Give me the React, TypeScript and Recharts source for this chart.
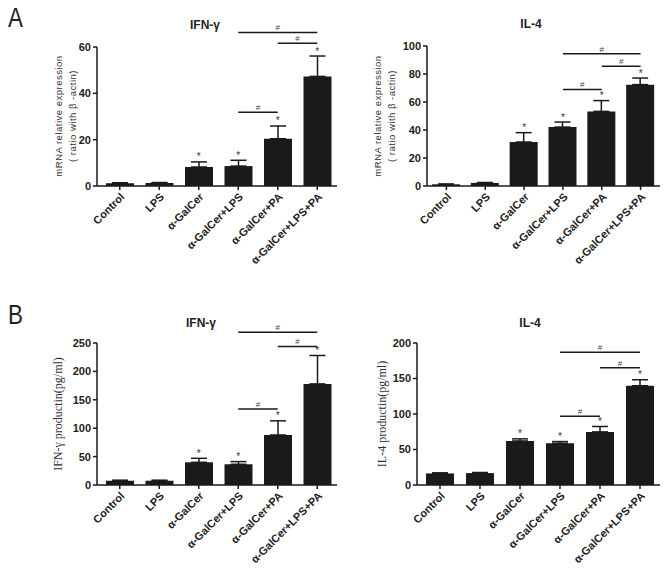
import React from 'react';
import { BarChart, Bar, XAxis, YAxis, ErrorBar, ReferenceLine, ReferenceDot } from 'recharts';

const categories = ['Control', 'LPS', 'α-GalCer', 'α-GalCer+LPS', 'α-GalCer+PA', 'α-GalCer+LPS+PA'];

// A: mRNA relative expression
const ifnMrnaMean = [1.2, 1.3, 8.2, 8.6, 20.4, 47.3];
const ifnMrnaErr = [0.2, 0.2, 2.2, 2.5, 5.5, 8.8];
const il4MrnaMean = [1.2, 2.2, 31.4, 42.1, 53.3, 72.4];
const il4MrnaErr = [0.2, 0.3, 6.7, 3.6, 7.7, 4.7];

// B: protein production (pg/ml)
const ifnProdMean = [7.5, 7.5, 40, 36.5, 88, 178];
const ifnProdErr = [1, 1, 7, 4.7, 25, 50];
const il4ProdMean = [16.3, 16.8, 62, 58.8, 74.8, 139.8];
const il4ProdErr = [0.8, 0.8, 3, 2.4, 7.6, 8.4];

// groups marked with * (vs control)
const starred = [2, 3, 4, 5];

// significance brackets: [from index, to index, y value]
const ifnMrnaBrackets = [[3, 5, 66.3], [4, 5, 61.6], [3, 4, 31.8]];
const il4MrnaBrackets = [[3, 5, 94.5], [4, 5, 85.5], [3, 4, 69]];
const ifnProdBrackets = [[3, 5, 269], [4, 5, 244], [3, 4, 134]];
const il4ProdBrackets = [[3, 5, 187], [4, 5, 165], [3, 4, 97]];

const ifnMrnaTicks = [0, 20, 40, 60];
const il4MrnaTicks = [0, 20, 40, 60, 80, 100];
const ifnProdTicks = [0, 50, 100, 150, 200, 250];
const il4ProdTicks = [0, 50, 100, 150, 200];

const SANS = '"Liberation Sans", Arial, sans-serif';
const SERIF = '"Liberation Serif", "Times New Roman", serif';
const INK = '#1a1a1a';

const buildRows = (mean: number[], err: number[]) =>
  categories.map((name, i) => ({ name, mean: mean[i], err: [0, err[i]] }));

interface PanelProps {
  mean: number[];
  err: number[];
  ticks: number[];
  brackets: number[][];
  left: number;
  top: number;
  width: number;
  height: number;
  margin: { top: number; right: number; bottom: number; left: number };
  xHeight: number;
  padLeft: number;
}

const Panel: React.FC<PanelProps> = ({ mean, err, ticks, brackets, left, top, width, height, margin, xHeight, padLeft }) => {
  const rows = buildRows(mean, err);
  const max = ticks[ticks.length - 1];
  return (
    <div style={{ position: 'absolute', left, top }}>
      <BarChart width={width} height={height} data={rows} margin={margin} barSize={28}>
        <XAxis
          dataKey="name"
          interval={0}
          angle={-45}
          textAnchor="end"
          height={xHeight}
          tickSize={4}
          padding={{ left: padLeft, right: 0 }}
          axisLine={{ stroke: INK, strokeWidth: 1.5 }}
          tickLine={{ stroke: INK, strokeWidth: 1.5 }}
          tick={{ fontSize: 11, fontWeight: 'bold', fill: '#222', fontFamily: SANS }}
        />
        <YAxis
          domain={[0, max]}
          ticks={ticks}
          width={40}
          tickSize={4}
          axisLine={{ stroke: INK, strokeWidth: 1.5 }}
          tickLine={{ stroke: INK, strokeWidth: 1.5 }}
          tick={{ fontSize: 11, fontWeight: 'bold', fill: '#222', fontFamily: SANS }}
        />
        <Bar dataKey="mean" fill={INK} isAnimationActive={false}>
          <ErrorBar dataKey="err" direction="y" width={8} stroke={INK} strokeWidth={1.5} />
        </Bar>
        {starred.map((i) => (
          <ReferenceDot
            key={`s-${i}`}
            x={categories[i]}
            y={mean[i] + err[i]}
            r={0}
            shape={(p: any) => (
              <text x={p.cx} y={p.cy - 1.5} textAnchor="middle" fontSize={10} fill="#333" fontFamily={SANS}>*</text>
            )}
          />
        ))}
        {brackets.map(([a, b, y], k) => (
          <ReferenceLine
            key={`b-${k}`}
            segment={[{ x: categories[a], y }, { x: categories[b], y }]}
            ifOverflow="visible"
            stroke={INK}
            strokeWidth={1.5}
            label={{ value: '#', position: 'top', offset: 2, fontSize: 8, fill: '#444', fontFamily: SANS }}
          />
        ))}
      </BarChart>
    </div>
  );
};

const Title: React.FC<{ text: string; cx: number; top: number }> = ({ text, cx, top }) => (
  <div style={{ position: 'absolute', left: cx - 50, top, width: 100, textAlign: 'center', fontFamily: SANS, fontWeight: 'bold', fontSize: 12, lineHeight: '12px', color: '#222' }}>
    {text}
  </div>
);

const YLabel: React.FC<{ lines: string[]; cx: number; cy: number; font: string; size: number; spacing?: number; lh: number }> = ({ lines, cx, cy, font, size, spacing = 0, lh }) => (
  <div
    style={{
      position: 'absolute', left: cx, top: cy, transform: 'translate(-50%, -50%) rotate(-90deg)',
      whiteSpace: 'nowrap', textAlign: 'center', fontFamily: font, fontSize: size, lineHeight: `${lh}px`,
      letterSpacing: spacing, color: '#333',
    }}
  >
    {lines.map((l, i) => <div key={i}>{l}</div>)}
  </div>
);

const Letter: React.FC<{ text: string; top: number }> = ({ text, top }) => (
  <div style={{ position: 'absolute', left: 8, top, fontFamily: SANS, fontSize: 28, lineHeight: '28px', color: '#222', transform: 'scaleX(0.8)', transformOrigin: 'left top' }}>
    {text}
  </div>
);

export default function App() {
  return (
    <div style={{ position: 'absolute', left: 0, top: 0, width: 668, height: 571, background: '#fff', overflow: 'hidden' }}>
      <Letter text="A" top={4} />
      <Letter text="B" top={301} />

      <Title text="IFN-γ" cx={205} top={19} />
      <Title text="IL-4" cx={531} top={18} />
      <Title text="IFN-γ" cx={201} top={317} />
      <Title text="IL-4" cx={530} top={317} />

      <YLabel lines={['mRNA relative expression', '( ratio with β -actin)']} cx={66} cy={116} font={SANS} size={9.5} spacing={0.5} lh={14} />
      <YLabel lines={['mRNA relative expression', '( ratio with β -actin)']} cx={385} cy={116} font={SANS} size={9.5} spacing={0.5} lh={14} />
      <YLabel lines={['IFN-γ  productin(pg/ml)']} cx={58} cy={414} font={SERIF} size={12} lh={14} />
      <YLabel lines={['IL-4 productin(pg/ml)']} cx={382} cy={414} font={SERIF} size={12} lh={14} />

      <Panel mean={ifnMrnaMean} err={ifnMrnaErr} ticks={ifnMrnaTicks} brackets={ifnMrnaBrackets}
        left={0} top={0} width={340} height={290} margin={{ top: 47, right: 3, bottom: 4, left: 57 }} xHeight={100} padLeft={3} />
      <Panel mean={il4MrnaMean} err={il4MrnaErr} ticks={il4MrnaTicks} brackets={il4MrnaBrackets}
        left={330} top={0} width={338} height={290} margin={{ top: 46, right: 8, bottom: 4, left: 57 }} xHeight={100} padLeft={0} />
      <Panel mean={ifnProdMean} err={ifnProdErr} ticks={ifnProdTicks} brackets={ifnProdBrackets}
        left={0} top={290} width={340} height={281} margin={{ top: 53, right: 3, bottom: 4, left: 57 }} xHeight={82} padLeft={3} />
      <Panel mean={il4ProdMean} err={il4ProdErr} ticks={il4ProdTicks} brackets={il4ProdBrackets}
        left={330} top={290} width={338} height={281} margin={{ top: 53, right: 8, bottom: 4, left: 47 }} xHeight={82} padLeft={3} />
    </div>
  );
}
